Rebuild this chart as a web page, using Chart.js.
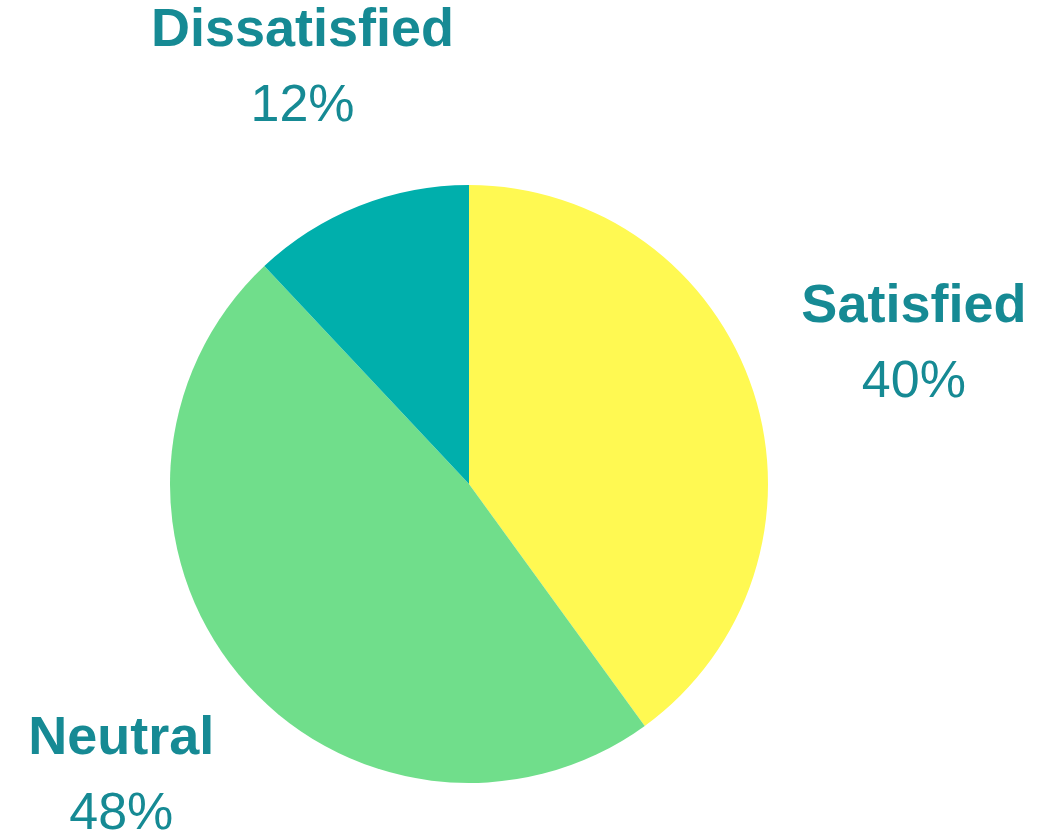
<!DOCTYPE html>
<html>
<head>
<meta charset="utf-8">
<script src="https://cdn.jsdelivr.net/npm/chart.js@4/dist/chart.umd.min.js"></script>
<style>
  html, body { margin: 0; padding: 0; background: #fff; }
  #wrap { width: 1045px; height: 830px; }
</style>
</head>
<body>
<div id="wrap"><canvas id="chartPuas" width="1045" height="830"></canvas></div>
<script>
const labels = ['Satisfied', 'Neutral', 'Dissatisfied'];
const shares = [40, 48, 12];
const colors = ['#FFF952', '#70DE8B', '#00AFAC'];

const FONT = '"Liberation Sans", Arial, sans-serif';
const TEXT_COLOR = '#168A94';

// label di luar pie: nama kategori (tebal) + persentase di bawahnya
const outerLabels = {
  id: 'outerLabels',
  afterDatasetsDraw(chart) {
    const ctx = chart.ctx;
    const meta = chart.getDatasetMeta(0);
    const gap = 44;
    const boxH = 115;
    const capH = 40;
    ctx.save();
    ctx.fillStyle = TEXT_COLOR;
    ctx.textAlign = 'center';
    ctx.textBaseline = 'alphabetic';
    meta.data.forEach((arc, i) => {
      const { x, y, startAngle, endAngle, outerRadius } = arc.getProps(
        ['x', 'y', 'startAngle', 'endAngle', 'outerRadius'], true);
      const mid = (startAngle + endAngle) / 2;
      const dx = Math.cos(mid), dy = Math.sin(mid);
      const value = chart.data.datasets[0].data[i];
      const pct = value + '%';

      ctx.font = 'bold 54px ' + FONT;
      const w1 = ctx.measureText(chart.data.labels[i]).width;
      ctx.font = '52px ' + FONT;
      const w2 = ctx.measureText(pct).width;
      const boxW = Math.max(w1, w2);

      const proj = Math.abs(dx) * boxW / 2 + Math.abs(dy) * boxH / 2;
      const dist = outerRadius + gap + proj;
      const cx = x + dx * dist;
      const cy = y + dy * dist;

      ctx.font = 'bold 54px ' + FONT;
      ctx.fillText(chart.data.labels[i], cx, cy - boxH / 2 + capH);
      ctx.font = '52px ' + FONT;
      ctx.fillText(pct, cx, cy + boxH / 2);
    });
    ctx.restore();
  }
};

new Chart(document.getElementById('chartPuas'), {
  type: 'pie',
  data: {
    labels: labels,
    datasets: [{
      data: shares,
      backgroundColor: colors,
      borderWidth: 0
    }]
  },
  options: {
    responsive: false,
    animation: false,
    layout: { padding: { left: 170, right: 277, top: 185, bottom: 47 } },
    plugins: {
      legend: { display: false },
      tooltip: { enabled: false }
    }
  },
  plugins: [outerLabels]
});
</script>
</body>
</html>
